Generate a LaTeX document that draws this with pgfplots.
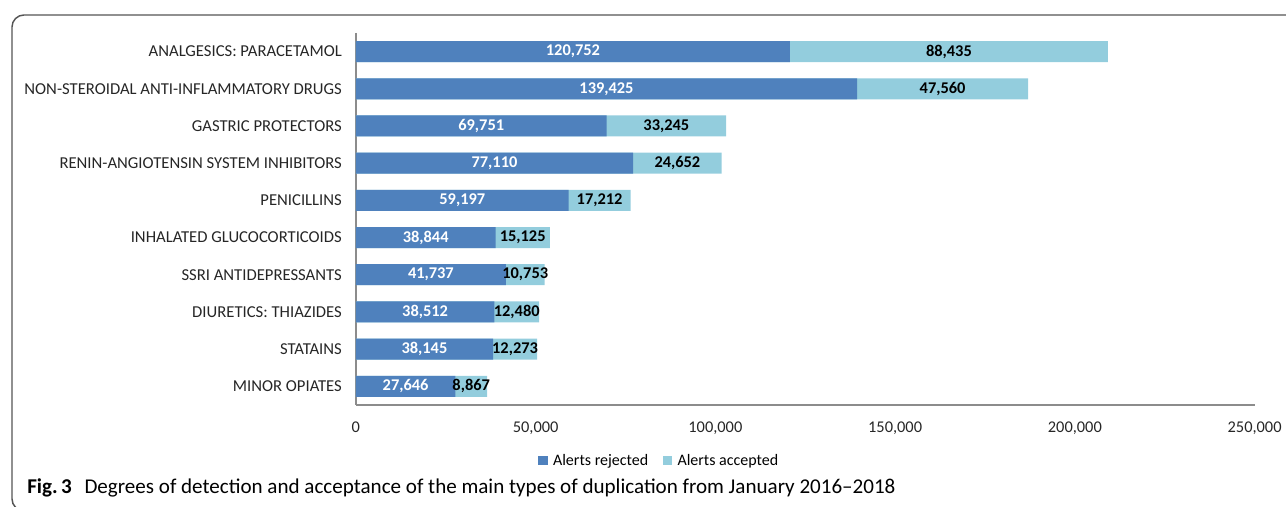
\documentclass[border=0pt]{standalone}
\usepackage{pgfplots}
\pgfplotsset{compat=1.18}
\usepackage{pgfplotstable}
\usepackage{fontspec}
\setmainfont{Carlito}
\definecolor{darkb}{HTML}{4F81BD}
\definecolor{lightb}{HTML}{93CDDD}
\definecolor{axgray}{HTML}{8C8C8C}
\definecolor{frame}{HTML}{555555}
\pgfplotstableread{
idx rej acc
0 120752 88435
1 139425 47560
2 69751 33245
3 77110 24652
4 59197 17212
5 38844 15125
6 41737 10753
7 38512 12480
8 38145 12273
9 27646 8867
}\datatable
\begin{document}
\begin{tikzpicture}
\begin{scope}[x=0.75pt,y=0.75pt]
\path[use as bounding box] (0,0) rectangle (1286,507);
\draw[frame, line width=1.1pt, rounded corners=9pt] (12,-4) rectangle (1330,492);
\node[anchor=base west, inner sep=0pt, font=\fontsize{15.8pt}{17pt}\selectfont] at (27,13) {\textbf{Fig.\,3}\hspace{0.6em}Degrees of detection and acceptance of the main types of duplication from January 2016--2018};
\end{scope}
\begin{axis}[
  at={(267pt,76.5pt)}, anchor=south west,
  scale only axis, width=674.25pt, height=279pt,
  xmin=0, xmax=250000, ymin=-0.5, ymax=9.5, y dir=reverse,
  axis x line*=bottom, axis y line*=left,
  axis line style={axgray, line width=1pt},
  major tick length=0pt,
  xtick={0,50000,100000,150000,200000,250000},
  scaled x ticks=false,
  /pgf/number format/.cd, 1000 sep={,}, fixed, assume math mode=true,
  /pgfplots/.cd,
  xticklabel style={font=\fontsize{12.3pt}{14pt}\selectfont, color=black!85, yshift=-9pt},
  ytick={0,...,9},
  yticklabels={ANALGESICS: PARACETAMOL, NON-STEROIDAL ANTI-INFLAMMATORY DRUGS, GASTRIC PROTECTORS, RENIN-ANGIOTENSIN SYSTEM INHIBITORS, PENICILLINS, INHALATED GLUCOCORTICOIDS, SSRI ANTIDEPRESSANTS, DIURETICS: THIAZIDES, STATAINS, MINOR OPIATES},
  yticklabel style={font=\fontsize{12.5pt}{14pt}\selectfont, color=black!85, xshift=-7pt},
  clip=false,
  legend style={at={(0.338,-0.15)}, anchor=center, draw=none, fill=none,
    legend columns=2, font=\fontsize{12pt}{14pt}\selectfont,
    /tikz/every even column/.append style={column sep=9pt}},
  legend cell align=left,
]
\addlegendimage{legend image code/.code={\path[draw=none,fill=none] (0pt,0pt) rectangle (9pt,0.1pt); \fill[darkb,draw=none] (0pt,-3.5pt) rectangle (7pt,3.5pt);}}
\addlegendentry{Alerts rejected}
\addlegendimage{legend image code/.code={\path[draw=none,fill=none] (0pt,0pt) rectangle (9pt,0.1pt); \fill[lightb,draw=none] (0pt,-3.5pt) rectangle (7pt,3.5pt);}}
\addlegendentry{Alerts accepted}
\addplot[xbar, bar width=15.75pt, bar shift=0pt, fill=lightb, draw=none, forget plot]
  table[x expr=\thisrow{rej}+\thisrow{acc}, y=idx] {\datatable};
\addplot[xbar, bar width=15.75pt, bar shift=0pt, fill=darkb, draw=none, forget plot]
  table[x=rej, y=idx] {\datatable};
\addplot[draw=none, mark=none, forget plot, point meta=explicit,
  nodes near coords, nodes near coords align={center},
  every node near coord/.append style={anchor=center, font=\bfseries\fontsize{12.3pt}{14pt}\selectfont, text=white}]
  table[x expr=\thisrow{rej}/2, y=idx, meta=rej] {\datatable};
\addplot[draw=none, mark=none, forget plot, point meta=explicit,
  nodes near coords, nodes near coords align={center},
  every node near coord/.append style={anchor=center, font=\bfseries\fontsize{12.3pt}{14pt}\selectfont, text=black}]
  table[x expr=\thisrow{rej}+\thisrow{acc}/2, y=idx, meta=acc] {\datatable};
\end{axis}
\end{tikzpicture}
\end{document}
